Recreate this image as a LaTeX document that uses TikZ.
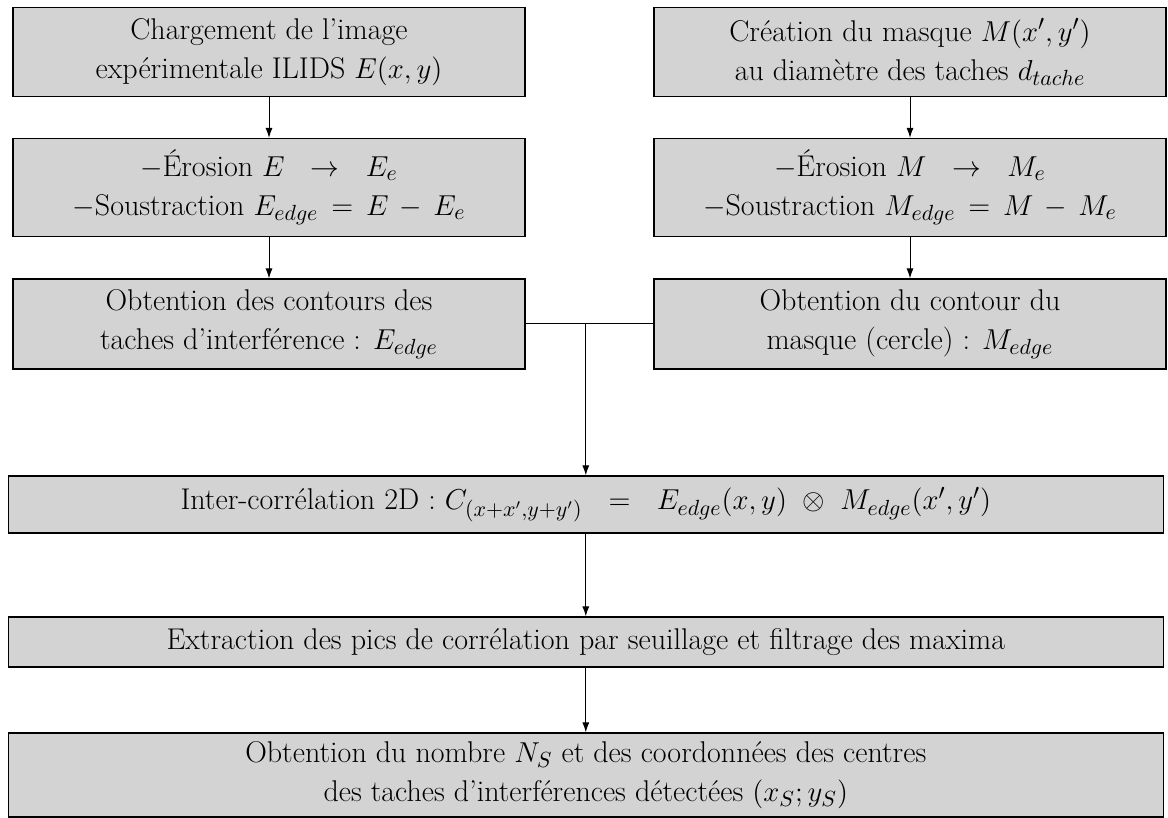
\documentclass[tikz,border=0pt]{standalone}
\usepackage{fontspec}
\usetikzlibrary{arrows.meta}
\definecolor{boxgray}{RGB}{211,211,211}
\tikzset{
  box/.style={draw=black, fill=boxgray, line width=0.6pt, align=center, inner sep=0pt,
    font=\fontsize{15}{19.5}\selectfont},
  half/.style={box, minimum width=256pt},
  full/.style={box, minimum width=577.5pt},
  arr/.style={line width=0.5pt, -{Latex[length=5pt,width=3.5pt]}},
  link/.style={line width=0.5pt}
}
\begin{document}
\begin{tikzpicture}[x=0.5pt,y=-0.5pt]
\useasboundingbox (0,0) rectangle (1168,818);
\node[half, minimum height=44.5pt] (b1) at (269,52) {Chargement de l'image\\expérimentale ILIDS $E(x,y)$};
\node[half, minimum height=44.5pt] (b2) at (910,52) {Création du masque $M(x',y')$\\au diamètre des taches $d_{tache}$};
\node[half, minimum height=49pt] (b3) at (269,187.5) {$-$Érosion $E\ \ \rightarrow\ \ E_e$\\$-$Soustraction $E_{edge}\,=\,E\,-\,E_e$};
\node[half, minimum height=49pt] (b4) at (910,187.5) {$-$Érosion $M\ \ \rightarrow\ \ M_e$\\$-$Soustraction $M_{edge}\,=\,M\,-\,M_e$};
\node[half, minimum height=45pt] (b5) at (269,324) {Obtention des contours des\\taches d'interférence : $E_{edge}$};
\node[half, minimum height=45pt] (b6) at (910,324) {Obtention du contour du\\masque (cercle) : $M_{edge}$};
\node[full, minimum height=28.5pt] (b7) at (585.8,504.5) {Inter-corrélation 2D : $C_{(x+x',y+y')}\ \ =\ \ E_{edge}(x,y)\ \otimes\ M_{edge}(x',y')$};
\node[full, minimum height=25pt] (b8) at (585.8,642) {Extraction des pics de corrélation par seuillage et filtrage des maxima};
\node[full, minimum height=42pt] (b9) at (585.8,775) {Obtention du nombre $N_S$ et des coordonnées des centres\\des taches d'interférences détectées $(x_S;y_S)$};
\coordinate (j) at (b7.north |- b5.east);
\draw[arr] (b1.south) -- (b3.north);
\draw[arr] (b3.south) -- (b5.north);
\draw[arr] (b2.south) -- (b4.north);
\draw[arr] (b4.south) -- (b6.north);
\draw[link] (b5.east) -- (b6.west);
\draw[arr] (j) -- (b7.north);
\draw[arr] (b7.south) -- (b8.north);
\draw[arr] (b8.south) -- (b9.north);
\end{tikzpicture}
\end{document}
